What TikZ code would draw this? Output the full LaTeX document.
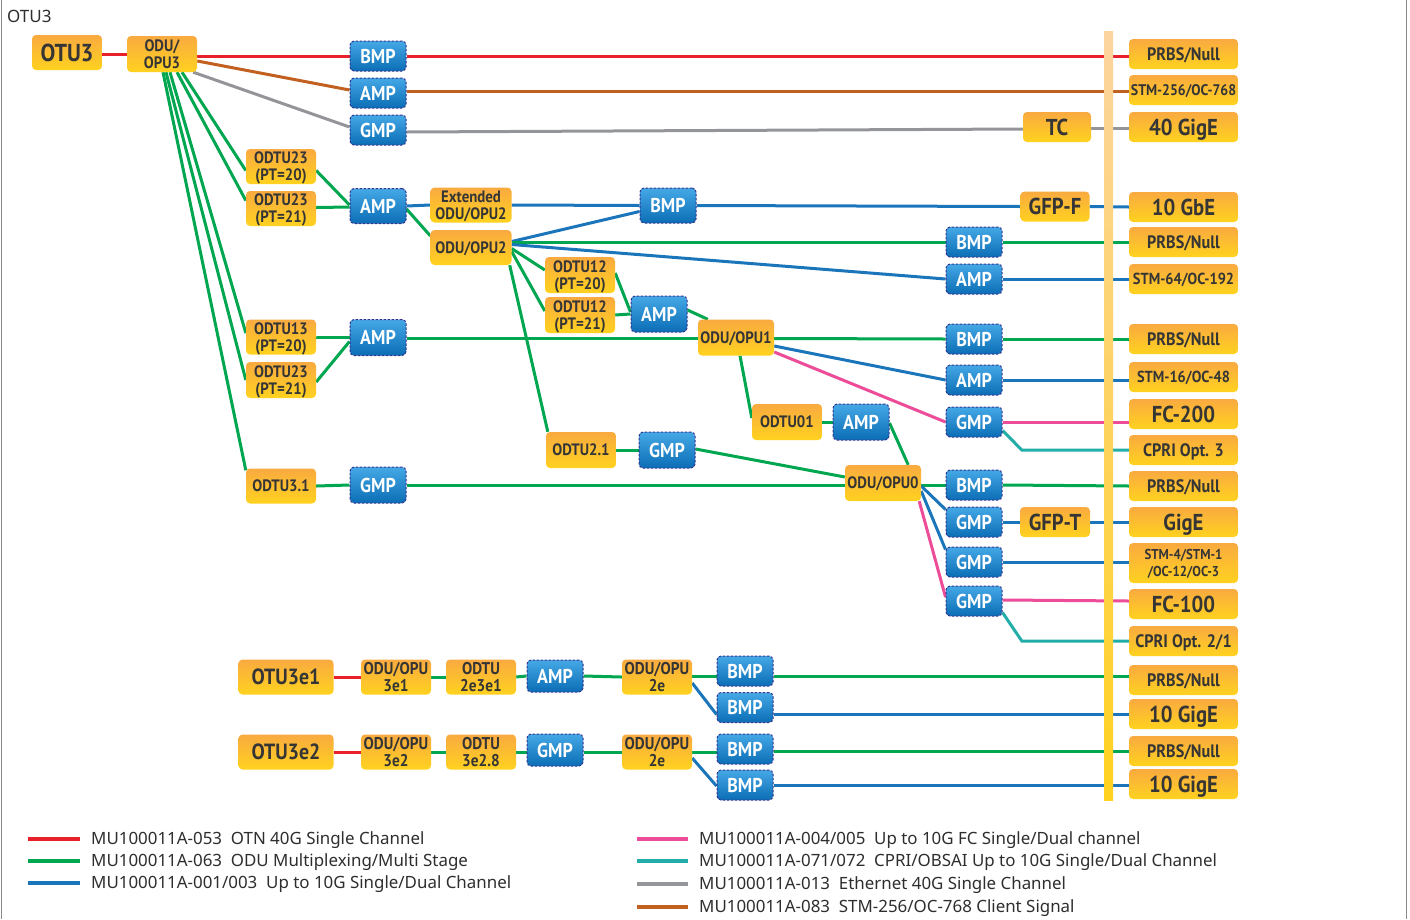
\documentclass[tikz,border=0pt]{standalone}
\usepackage{fontspec}
\setmainfont{Noto Sans}
\newfontfamily\bx[FakeStretch=0.9]{PT Sans}
\newcommand{\myfs}[2]{\fontsize{#1}{#2}\selectfont}
\pgfdeclarelayer{bg}
\pgfsetlayers{bg,main}
\definecolor{oT}{HTML}{F9AA40}
\definecolor{oM}{HTML}{F7961F}
\definecolor{oB}{HTML}{FFD21F}
\definecolor{bT}{HTML}{45A8E6}
\definecolor{bM}{HTML}{1684CD}
\definecolor{bB}{HTML}{0B6DB5}
\definecolor{bE}{HTML}{34348F}
\definecolor{tx}{HTML}{353535}
\definecolor{tx2}{HTML}{2E2E2E}
\definecolor{cR}{HTML}{E8202A}
\definecolor{cG}{HTML}{00A650}
\definecolor{cB}{HTML}{1B75BB}
\definecolor{cP}{HTML}{EC4C98}
\definecolor{cT}{HTML}{22ADA8}
\definecolor{cGy}{HTML}{939598}
\definecolor{cBr}{HTML}{C1601F}
\definecolor{frame}{HTML}{8A8A8A}
\begin{document}
\begin{tikzpicture}[x=1pt,y=-1pt,
  ob/.style={rounded corners=4pt, top color=oT, middle color=oM, bottom color=oB,
    minimum width=70pt, minimum height=35pt, inner sep=0pt, align=center, text=tx,
    text height=28.5pt, text depth=0pt,
    font=\bx\bfseries\myfs{16.5}{17}},
  one/.style={text height=#1, text depth=0pt},
  one/.default=11.5pt,
  big/.style={one=16pt, font=\bx\bfseries\myfs{23}{23}},
  mid/.style={one=12.6pt, font=\bx\bfseries\myfs{18}{18}},
  sml/.style={one=11.2pt, font=\bx\bfseries\myfs{16}{16}},
  two/.style={text height=29pt, font=\bx\bfseries\myfs{17}{17}},
  rc/.style={ob, minimum width=109pt, minimum height=30pt},
  bb/.style={rounded corners=4pt, top color=bT, middle color=bM, bottom color=bB,
    draw=bE, dash pattern=on 2.5pt off 1.5pt, line width=1pt,
    minimum width=56pt, minimum height=30pt, inner sep=0pt, text=white,
    text height=14pt, text depth=0pt,
    font=\bx\bfseries\myfs{20}{20}},
  wire/.style={line width=3pt},
  leg/.style={anchor=west, inner sep=0pt, text=tx2, font=\myfs{16.9}{17}},
  sw/.style={line width=4pt}
]
\useasboundingbox (0,0) rectangle (1410,919);
\draw[frame, line width=1pt] (1.5,0) -- (1.5,919) (1406.5,0) -- (1406.5,919);
\node[anchor=west, inner sep=0pt, text=tx2, font=\myfs{17}{17}] (title) at (7,16) {OTU3};

% orange nodes
\node[ob, one=17pt, font=\bx\bfseries\myfs{24.5}{24}] (otu3) at (67,52.5) {OTU3};
\node[ob, minimum height=36pt] (oduopu3) at (162,54) {ODU/\\OPU3};
\node[ob] (odtu23a) at (281,166.5) {ODTU23\\(PT=20)};
\node[ob] (odtu23b) at (281,208.5) {ODTU23\\(PT=21)};
\node[ob, minimum width=81pt] (extodu2) at (471,205) {Extended\\ODU/OPU2};
\node[ob, one, minimum width=81pt] (oduopu2) at (471,247.5) {ODU/OPU2};
\node[ob, minimum height=36pt] (odtu12a) at (580,275) {ODTU12\\(PT=20)};
\node[ob, minimum height=36pt] (odtu12b) at (580,315) {ODTU12\\(PT=21)};
\node[ob] (odtu13) at (281,337) {ODTU13\\(PT=20)};
\node[ob, minimum height=36pt] (odtu23c) at (281,380) {ODTU23\\(PT=21)};
\node[ob, one, minimum width=76pt, minimum height=36pt] (oduopu1) at (736,337.5) {ODU/OPU1};
\node[ob, one, minimum height=36pt] (odtu01) at (787,422) {ODTU01};
\node[ob, one, minimum height=36pt] (odtu21) at (581,450) {ODTU2.1};
\node[ob, one] (odtu31) at (281,486) {ODTU3.1};
\node[ob, one, minimum width=76pt, minimum height=36pt] (oduopu0) at (883,483) {ODU/OPU0};
\node[ob, big, minimum width=68pt, minimum height=30pt] (tc) at (1057,127) {TC};
\node[ob, big, minimum width=69pt, minimum height=30pt] (gfpf) at (1055,206.5) {GFP-F};
\node[ob, big, minimum width=70pt, minimum height=30pt] (gfpt) at (1055,522) {GFP-T};

% right column
\node[rc, mid] (r1) at (1183.5,54) {PRBS/Null};
\node[rc, one=10.8pt, font=\bx\bfseries\myfs{15.4}{16}] (r2) at (1183.5,90) {STM-256/OC-768};
\node[rc, big] (r3) at (1183.5,127) {40 GigE};
\node[rc, big] (r4) at (1183.5,207) {10 GbE};
\node[rc, mid] (r5) at (1183.5,242) {PRBS/Null};
\node[rc, sml] (r6) at (1183.5,279) {STM-64/OC-192};
\node[rc, mid] (r7) at (1183.5,339) {PRBS/Null};
\node[rc, sml] (r8) at (1183.5,377) {STM-16/OC-48};
\node[rc, big] (r9) at (1183.5,414) {FC-200};
\node[rc, mid] (r10) at (1183.5,450) {CPRI Opt. 3};
\node[rc, mid] (r11) at (1183.5,486) {PRBS/Null};
\node[rc, big] (r12) at (1183.5,522) {GigE};
\node[rc, minimum height=40pt, text height=27.5pt, font=\bx\bfseries\myfs{14.3}{17.5}] (r13) at (1183.5,563) {STM-4/STM-1\\/OC-12/OC-3};
\node[rc, big] (r14) at (1183.5,604) {FC-100};
\node[rc, mid] (r15) at (1183.5,641) {CPRI Opt. 2/1};
\node[rc, mid] (r16) at (1183.5,680) {PRBS/Null};
\node[rc, big] (r17) at (1183.5,714) {10 GigE};
\node[rc, mid] (r18) at (1183.5,751) {PRBS/Null};
\node[rc, big] (r19) at (1183.5,784) {10 GigE};

% bottom rows
\node[ob, one=15.4pt, font=\bx\bfseries\myfs{22}{22}, minimum width=95pt] (otu3e1) at (286,677) {OTU3e1};
\node[ob, two] (odu3e1) at (396,677) {ODU/OPU\\3e1};
\node[ob, two] (odtu2e3e1) at (481,677) {ODTU\\2e3e1};
\node[bb, minimum height=32pt] (amp5) at (555,676) {AMP};
\node[ob, two] (odu2ea) at (657,677) {ODU/OPU\\2e};
\node[bb] (bmpe1) at (745,671) {BMP};
\node[bb] (bmpe2) at (745,707.5) {BMP};
\node[ob, one=15.4pt, font=\bx\bfseries\myfs{22}{22}, minimum width=95pt] (otu3e2) at (286,752) {OTU3e2};
\node[ob, two] (odu3e2) at (396,752) {ODU/OPU\\3e2};
\node[ob, two] (odtu3e28) at (481,752) {ODTU\\3e2.8};
\node[bb, minimum height=32pt] (gmp6) at (555,750) {GMP};
\node[ob, two] (odu2eb) at (657,752) {ODU/OPU\\2e};
\node[bb] (bmpe3) at (745,749) {BMP};
\node[bb] (bmpe4) at (745,785) {BMP};

% blue nodes
\node[bb] (b1) at (378,56) {BMP};
\node[bb] (b2) at (378,93) {AMP};
\node[bb] (b3) at (378,130) {GMP};
\node[bb, minimum height=35pt] (b4) at (378,206) {AMP};
\node[bb, minimum height=35pt] (b5) at (668,205.5) {BMP};
\node[bb, minimum height=36pt] (b6) at (659,314) {AMP};
\node[bb, minimum height=36pt] (b7) at (378,337.5) {AMP};
\node[bb] (b8) at (974,242) {BMP};
\node[bb] (b9) at (974,279) {AMP};
\node[bb] (b10) at (974,339) {BMP};
\node[bb] (b11) at (974,380) {AMP};
\node[bb] (b12) at (974,422) {GMP};
\node[bb, minimum height=36pt] (b13) at (861,422) {AMP};
\node[bb, minimum height=36pt] (b14) at (667,450) {GMP};
\node[bb, minimum height=36pt] (b15) at (378,485) {GMP};
\node[bb] (b16) at (974,485) {BMP};
\node[bb] (b17) at (974,522) {GMP};
\node[bb] (b18) at (974,562) {GMP};
\node[bb] (b19) at (974,601) {GMP};

% vertical band
\shade[top color=oT!50!white, middle color=oM!85!oT, bottom color=oB] (1104,31) rectangle (1113,800);

\begin{pgfonlayer}{bg}
% red
\draw[wire, cR] (otu3.east |- oduopu3.east) -- (oduopu3.west);
\draw[wire, cR] (oduopu3.east |- b1.west) -- (b1.west);
\draw[wire, cR] (b1.east) -- (r1.west |- b1.east);
% brown
\draw[wire, cBr] ([yshift=-7pt]oduopu3.east) -- ([yshift=3pt]b2.west);
\draw[wire, cBr] ([yshift=2pt]b2.east) -- ([yshift=2pt]b2.east -| r2.west);
% gray
\draw[wire, cGy] ([xshift=-4pt]oduopu3.south east) -- ([yshift=3pt]b3.west);
\draw[wire, cGy] ([yshift=-2pt]b3.east) -- ([yshift=-2pt]tc.west);
\draw[wire, cGy] ([yshift=-1pt]tc.east) -- ([yshift=-1pt]r3.west);
% green fan
\draw[wire, cG] ([xshift=20pt]oduopu3.south) -- ([yshift=-4pt]odtu23a.west);
\draw[wire, cG] ([xshift=15pt]oduopu3.south) -- ([yshift=8pt]odtu23b.west);
\draw[wire, cG] ([xshift=8pt]oduopu3.south) -- ([yshift=4pt]odtu13.west);
\draw[wire, cG] ([xshift=4pt]oduopu3.south) -- (odtu23c.west);
\draw[wire, cG] ([xshift=1pt]oduopu3.south) -- ([yshift=-2pt]odtu31.north west);
% ODTU23 -> AMP
\draw[wire, cG] ([yshift=-4pt]odtu23a.east) -- ([yshift=1pt]b4.west);
\draw[wire, cG] ([yshift=1pt]odtu23b.east) -- ([yshift=-1pt]b4.west);
\draw[wire, cB] (b4.east) -- (extodu2.west);
\draw[wire, cG] ([yshift=-3pt]b4.east) -- ([yshift=-6pt]oduopu2.north west);
\draw[wire, cB] (extodu2.east) -- (b5.west);
% ODU/OPU2
\draw[wire, cB] ([yshift=6pt]oduopu2.east) -- ([yshift=-6pt]b5.west);
\draw[wire, cG] (b8.west -| oduopu2.east) -- (b8.west);
\draw[wire, cG] (b8.east) -- (r5.west);
\draw[wire, cB] ([yshift=3pt]oduopu2.east) -- (b9.west);
\draw[wire, cB] (b9.east) -- (r6.west);
\draw[wire, cG] ([yshift=-1pt]oduopu2.east) -- ([yshift=5pt]odtu12a.west);
\draw[wire, cG] ([yshift=-4pt]oduopu2.east) -- ([yshift=4pt]odtu12b.west);
\draw[wire, cG] ([xshift=-2pt]oduopu2.south east) -- ([xshift=2pt]odtu21.north west);
\draw[wire, cB] (b5.east) -- (gfpf.west);
\draw[wire, cB] (gfpf.east) -- (r4.west);
% ODTU12 -> AMP -> ODU/OPU1
\draw[wire, cG] ([yshift=2pt]odtu12a.east) -- ([yshift=2pt]b6.west);
\draw[wire, cG] (odtu12b.east) -- (b6.west);
\draw[wire, cG] ([yshift=4pt]b6.east) -- ([xshift=10pt]oduopu1.north west);
% ODTU13 / ODTU23 -> AMP -> ODU/OPU1
\draw[wire, cG] (odtu13.east) -- (b7.west -| odtu13.east) -- (b7.west);
\draw[wire, cG] ([yshift=-2pt]odtu23c.east) -- ([yshift=-4pt]b7.west);
\draw[wire, cG] ([yshift=-1pt]b7.east) -- ([yshift=-1pt]oduopu1.west);
\draw[wire, cG] ([yshift=-1pt]oduopu1.east) -- (b10.west);
\draw[wire, cG] (b10.east) -- (r7.west);
\draw[wire, cB] ([yshift=-8.5pt]oduopu1.east) -- (b11.west);
\draw[wire, cB] (b11.east) -- (r8.west |- b11.east);
\draw[wire, cP] ([yshift=-14.5pt]oduopu1.east) -- (b12.west);
\draw[wire, cP] (b12.east) -- (r9.west |- b12.east);
\draw[wire, cT] ([yshift=7pt]b12.south east) -- ([xshift=-107pt]r10.west) -- (r10.west);
% ODU/OPU1 -> ODTU01 -> AMP -> ODU/OPU0
\draw[wire, cG] ([xshift=4pt]oduopu1.south) -- ([yshift=4pt]odtu01.west);
\draw[wire, cG] (odtu01.east) -- (b13.west);
\draw[wire, cG] ([yshift=-1pt]b13.east) -- ([xshift=-13pt]oduopu0.north east);
% ODTU2.1 -> GMP -> ODU/OPU0
\draw[wire, cG] (odtu21.east) -- (b14.west);
\draw[wire, cG] ([yshift=1pt]b14.east) -- ([yshift=6pt]oduopu0.west);
% ODTU3.1 -> GMP -> ODU/OPU0
\draw[wire, cG] (odtu31.east) -- (b15.west);
\draw[wire, cG] (b15.east) -- ([yshift=-2pt]oduopu0.west);
\draw[wire, cG] ([yshift=-2pt]oduopu0.east) -- (b16.west);
\draw[wire, cG] (b16.east) -- (r11.west);
% ODU/OPU0 outputs
\draw[wire, cB] ([yshift=-3pt]oduopu0.east) -- ([yshift=-3pt]b17.north west);
\draw[wire, cB] (b17.east) -- (gfpt.west);
\draw[wire, cB] (gfpt.east) -- (r12.west);
\draw[wire, cB] ([yshift=-8pt]oduopu0.east) -- ([yshift=-3pt]b18.north west);
\draw[wire, cB] (b18.east) -- (r13.west |- b18.east);
\draw[wire, cP] ([xshift=-2pt]oduopu0.south east) -- ([yshift=4pt]b19.west);
\draw[wire, cP] ([yshift=1pt]b19.east) -- (r14.west |- b19.east);
\draw[wire, cT] ([yshift=4pt]b19.south east) -- ([xshift=-107pt]r15.west) -- (r15.west);
% bottom row 1
\draw[wire, cR] (otu3e1.east) -- (odu3e1.west);
\draw[wire, cG] (odu3e1.east) -- (odtu2e3e1.west);
\draw[wire, cG] (odtu2e3e1.east) -- (amp5.west);
\draw[wire, cG] (amp5.east) -- (odu2ea.west);
\draw[wire, cG] ([yshift=1pt]odu2ea.east) -- (bmpe1.west |- 0,676);
\draw[wire, cG] (bmpe1.east |- 0,676) -- (r16.west |- 0,676);
\draw[wire, cB] ([yshift=-6pt]odu2ea.east) -- ([yshift=-7pt]bmpe2.west);
\draw[wire, cB] (bmpe2.east |- r17.west) -- (r17.west);
% bottom row 2
\draw[wire, cR] (otu3e2.east) -- (odu3e2.west);
\draw[wire, cG] (odu3e2.east) -- (odtu3e28.west);
\draw[wire, cG] (odtu3e28.east) -- (gmp6.west |- odtu3e28.east);
\draw[wire, cG] (gmp6.east |- odu2eb.west) -- (odu2eb.west);
\draw[wire, cG] (odu2eb.east) -- (bmpe3.west |- odu2eb.east);
\draw[wire, cG] (bmpe3.east |- r18.west) -- (r18.west);
\draw[wire, cB] ([yshift=-6pt]odu2eb.east) -- ([yshift=-1pt]bmpe4.west);
\draw[wire, cB] (bmpe4.east) -- (r19.west |- bmpe4.east);
\end{pgfonlayer}

% legend
\draw[sw, cR] (28,839) -- (80,839);
\node[leg] (lg1) at (91,840.5) {MU100011A-053\ \ OTN 40G Single Channel};
\draw[sw, cG] (28,861) -- (80,861);
\node[leg] (lg2) at (91,862.5) {MU100011A-063\ \ ODU Multiplexing/Multi Stage};
\draw[sw, cB] (28,883) -- (80,883);
\node[leg] (lg3) at (91,884.5) {MU100011A-001/003\ \ Up to 10G Single/Dual Channel};
\draw[sw, cP] (637,839) -- (688,839);
\node[leg] (lg4) at (699,840.5) {MU100011A-004/005\ \ Up to 10G FC Single/Dual channel};
\draw[sw, cT] (637,861) -- (688,861);
\node[leg] (lg5) at (699,862.5) {MU100011A-071/072\ \ CPRI/OBSAI Up to 10G Single/Dual Channel};
\draw[sw, cGy] (637,884) -- (688,884);
\node[leg] (lg6) at (699,885.5) {MU100011A-013\ \ Ethernet 40G Single Channel};
\draw[sw, cBr] (637,907) -- (688,907);
\node[leg] (lg7) at (699,908.5) {MU100011A-083\ \ STM-256/OC-768 Client Signal};
\end{tikzpicture}
\end{document}
